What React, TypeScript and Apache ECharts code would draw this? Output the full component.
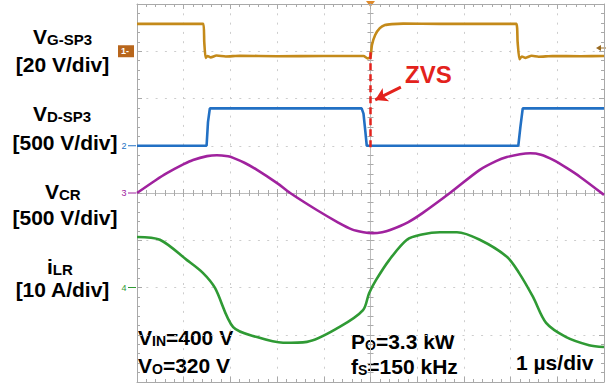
import { useEffect, useRef } from "react";
import * as echarts from "echarts";

// ---------- data (time in µs, 1 µs/div, trigger at t = 0) ----------
const gateTime = [-5, -3.58, -3.56, -3.53, -3.49, -3.42, -3.3, -3.1, -2.8, -2.0, -1.0, -0.15, -0.06, 0.0, 0.03, 0.1, 0.2, 0.31, 0.46, 0.7, 1.5, 2.5, 3.12, 3.15, 3.19, 3.24, 3.32, 3.45, 3.6, 3.9, 4.5, 5];
const gateVolts = [11.6, 11.6, 4.0, -2.8, -2.0, -2.6, -1.8, -2.2, -1.9, -2.1, -2.0, -2.0, -3.0, -2.4, 2.6, 6.9, 9.8, 11.1, 11.5, 11.7, 11.6, 11.6, 11.6, 4.0, -3.4, -2.2, -2.8, -1.9, -2.3, -2.0, -2.1, -2.0];

const drainTime = [-5, -3.51, -3.48, -3.44, -0.19, -0.15, -0.11, -0.08, 3.165, 3.21, 3.26, 5];
const drainVolts = [0, 0, 250, 395, 395, 340, 150, 0, 0, 200, 395, 395];

const crTime = [-5, -4.6, -4.36, -4.0, -3.8, -3.5, -3.29, -3.05, -2.94, -2.7, -2.43, -2.0, -1.72, -1.15, -0.7, -0.4, -0.15, 0.05, 0.25, 0.42, 0.8, 1.12, 1.7, 2.34, 2.7, 2.92, 3.2, 3.42, 3.65, 3.91, 4.2, 4.49, 5.0];
const crVolts = [0, 135, 210, 305, 350, 390, 400, 388, 372, 320, 245, 105, 0, -180, -310, -385, -415, -425, -415, -392, -310, -210, 0, 245, 340, 380, 410, 420, 405, 350, 265, 170, -20];

const lrTime = [-5, -4.51, -3.93, -3.59, -3.33, -2.94, -2.43, -1.87, -1.36, -0.67, -0.16, -0.03, 0.12, 0.4, 0.78, 1.1, 1.49, 1.85, 2.34, 2.92, 3.18, 3.48, 3.76, 4.19, 4.68, 5.0];
const lrAmps = [10.7, 10.1, 5.8, 3.1, -0.1, -8.4, -10.5, -11.7, -11.5, -8.4, -4.8, -1.2, 1.6, 5.8, 10.1, 11.2, 11.7, 11.7, 10.1, 6.5, 3.1, -2.0, -7.5, -10.5, -12.2, -12.6];

// channel settings: units per division and ground marker (div from screen centre)
const unitsPerDiv = [20, 500, 500, 10];
const groundDiv = [3, 1, 0, -2];

const zvsMark = { t: 0, fromDiv: 2.98, toDiv: 0.93 };
const zvsArrow = { from: [0.65, 2.24], to: [0.1, 1.97] };

// ---------- layout ----------
const W = 612;
const H = 386;
const G = { left: 137, top: 4, width: 467, height: 378 };
const divH = G.height / 8;
const FONT = "'Liberation Sans', Arial, Helvetica, sans-serif";
const INK = "#1c1c1c";
const COLORS = ["#c48a1a", "#2270c4", "#a0229e", "#2f9a34"];

const toDiv = (times: number[], vals: number[], ch: number) =>
  times.map((t, i) => [t, groundDiv[ch] + vals[i] / unitsPerDiv[ch]]);

const tickColor = "#a9a9a9";
function axisBase(min: number, max: number, extra: any) {
  return {
    type: "value",
    min,
    max,
    interval: 1,
    axisLabel: { show: false },
    splitLine: { show: false },
    axisLine: { show: true, onZero: false, lineStyle: { color: tickColor, width: 1 } },
    axisTick: { show: true, inside: true, length: 5, lineStyle: { color: tickColor } },
    minorTick: { show: true, splitNumber: 5, length: 3, lineStyle: { color: tickColor } },
    ...extra,
  };
}
const gridSplit = { show: true, lineStyle: { color: "#cdcdcd", type: [2, 7.3], width: 1 } };

const makeRich = (subSize: number) => ({
  m: { fontSize: 21, fontWeight: "bold", fontFamily: FONT, lineHeight: 21, color: INK },
  s: { fontSize: subSize, fontWeight: "bold", fontFamily: FONT, lineHeight: 8, verticalAlign: "bottom", color: INK },
});
const richLeft = makeRich(15);
const richBottom = makeRich(14);

function label(text: string, x: number, y: number, align = "left", rich: any = richLeft) {
  return {
    type: "text",
    x,
    y,
    silent: true,
    style: {
      text,
      rich,
      align,
      textAlign: align,
      verticalAlign: "middle",
      textVerticalAlign: "middle",
    },
  };
}

function groundTag(ch: number, text: string) {
  const y = G.top + (4 - groundDiv[ch]) * divH;
  return [
    {
      type: "text",
      x: 124,
      y,
      silent: true,
      style: { text, fill: COLORS[ch], font: `9px ${FONT}`, align: "center", textAlign: "center", verticalAlign: "middle", textVerticalAlign: "middle" },
    },
    {
      type: "line",
      silent: true,
      shape: { x1: 128, y1: y, x2: 136, y2: y },
      style: { stroke: COLORS[ch], lineWidth: 1 },
    },
  ];
}

export default function App() {
  const ref = useRef<HTMLDivElement>(null);
  useEffect(() => {
    document.body.style.margin = "0";
    const chart = echarts.init(ref.current!, null, { renderer: "svg" });
    const y1 = G.top + (4 - groundDiv[0]) * divH;
    const option: any = {
      animation: false,
      backgroundColor: "#ffffff",
      grid: G,
      xAxis: [
        axisBase(-5, 5, { position: "bottom", splitLine: gridSplit }),
        axisBase(-5, 5, { position: "top" }),
        axisBase(-5, 5, {
          position: "bottom",
          axisLine: { show: true, onZero: true, onZeroAxisIndex: 0, lineStyle: { color: "#bdbdbd", width: 1 } },
          axisTick: { show: true, inside: true, length: 4, lineStyle: { color: tickColor } },
          minorTick: { show: true, splitNumber: 5, length: 3, lineStyle: { color: tickColor } },
        }),
        axisBase(-5, 5, {
          position: "bottom",
          axisLine: { show: false, onZero: true, onZeroAxisIndex: 0 },
          axisTick: { show: true, inside: false, length: 4, lineStyle: { color: tickColor } },
          minorTick: { show: true, splitNumber: 5, length: 3, lineStyle: { color: tickColor } },
        }),
      ],
      yAxis: [
        axisBase(-4, 4, { position: "left", splitLine: gridSplit }),
        axisBase(-4, 4, { position: "right" }),
        axisBase(-4, 4, {
          position: "left",
          axisLine: { show: true, onZero: true, onZeroAxisIndex: 0, lineStyle: { color: "#bdbdbd", width: 1 } },
          axisTick: { show: true, inside: true, length: 4, lineStyle: { color: tickColor } },
          minorTick: { show: true, splitNumber: 5, length: 3, lineStyle: { color: tickColor } },
        }),
        axisBase(-4, 4, {
          position: "left",
          axisLine: { show: false, onZero: true, onZeroAxisIndex: 0 },
          axisTick: { show: true, inside: false, length: 4, lineStyle: { color: tickColor } },
          minorTick: { show: true, splitNumber: 5, length: 3, lineStyle: { color: tickColor } },
        }),
      ],
      series: [
        {
          type: "line",
          name: "V_CR",
          data: toDiv(crTime, crVolts, 2),
          smooth: 0.3,
          symbol: "none",
          lineStyle: { color: COLORS[2], width: 2.6 },
          z: 3,
        },
        {
          type: "line",
          name: "i_LR",
          data: toDiv(lrTime, lrAmps, 3),
          smooth: 0.3,
          symbol: "none",
          lineStyle: { color: COLORS[3], width: 2.6 },
          z: 3,
        },
        {
          type: "line",
          name: "V_G-SP3",
          data: toDiv(gateTime, gateVolts, 0),
          smooth: 0.2,
          symbol: "none",
          lineStyle: { color: COLORS[0], width: 2.6 },
          z: 4,
        },
        {
          type: "line",
          name: "V_D-SP3",
          data: toDiv(drainTime, drainVolts, 1),
          symbol: "none",
          lineStyle: { color: COLORS[1], width: 2.6 },
          z: 4,
          markLine: {
            silent: true,
            animation: false,
            label: { show: false },
            data: [
              [
                { coord: [zvsMark.t, zvsMark.fromDiv], symbol: "none", lineStyle: { color: "#e3221c", width: 2.5, type: [7, 4] } },
                { coord: [zvsMark.t, zvsMark.toDiv], symbol: "none" },
              ],
              [
                { coord: zvsArrow.from, symbol: "none", lineStyle: { color: "#e3221c", width: 3, type: "solid" } },
                { coord: zvsArrow.to, symbol: "arrow", symbolSize: [11, 12] },
              ],
            ],
          },
        },
      ],
      graphic: [
        // left channel labels
        label("{m|V}{s|G-SP3}", 33, 36),
        label("{m|[20 V/div]}", 62.5, 64.5, "center"),
        label("{m|V}{s|D-SP3}", 33, 113),
        label("{m|[500 V/div]}", 65, 142, "center"),
        label("{m|V}{s|CR}", 45, 191),
        label("{m|[500 V/div]}", 65, 217.5, "center"),
        label("{m|i}{s|LR}", 47, 266),
        label("{m|[10 A/div]}", 62.5, 289, "center"),
        // bottom annotations
        label("{m|V}{s|IN}{m|=400 V}", 138, 337.5, "left", richBottom),
        label("{m|V}{s|O}{m|=320 V}", 138, 365.5, "left", richBottom),
        label("{m|P}{s|O}{m|=3.3 kW}", 351, 341, "left", richBottom),
        label("{m|f}{s|S}{m|=150 kHz}", 351, 366, "left", richBottom),
        label("{m|1 µs/div}", 516, 362, "left", richBottom),
        // ZVS
        {
          type: "text",
          x: 405,
          y: 74.5,
          silent: true,
          style: { text: "ZVS", fill: "#e3221c", font: `bold 24px ${FONT}`, verticalAlign: "middle", textVerticalAlign: "middle" },
        },
        // channel 1 ground marker
        { type: "rect", silent: true, shape: { x: 118, y: y1 - 6, width: 16, height: 12 }, style: { fill: "#b8661c" } },
        {
          type: "text",
          x: 125,
          y: y1,
          silent: true,
          style: { text: "1-", fill: "#ffffff", font: `bold 9px ${FONT}`, align: "center", textAlign: "center", verticalAlign: "middle", textVerticalAlign: "middle" },
        },
        ...groundTag(1, "2"),
        ...groundTag(2, "3"),
        ...groundTag(3, "4"),
        // trigger position / level markers
        { type: "polygon", silent: true, shape: { points: [[366, 1], [375, 1], [370.5, 7]] }, style: { fill: "#e08a2a" } },
        { type: "polygon", silent: true, shape: { points: [[596, 48], [601, 45], [601, 51]] }, style: { fill: "#9a6a20" } },
        { type: "line", silent: true, shape: { x1: 600, y1: 48, x2: 606, y2: 48 }, style: { stroke: "#9a6a20", lineWidth: 1 } },
      ],
    };
    chart.setOption(option);
    return () => chart.dispose();
  }, []);
  return <div ref={ref} style={{ position: "fixed", left: 0, top: 0, width: W, height: H }} />;
}
